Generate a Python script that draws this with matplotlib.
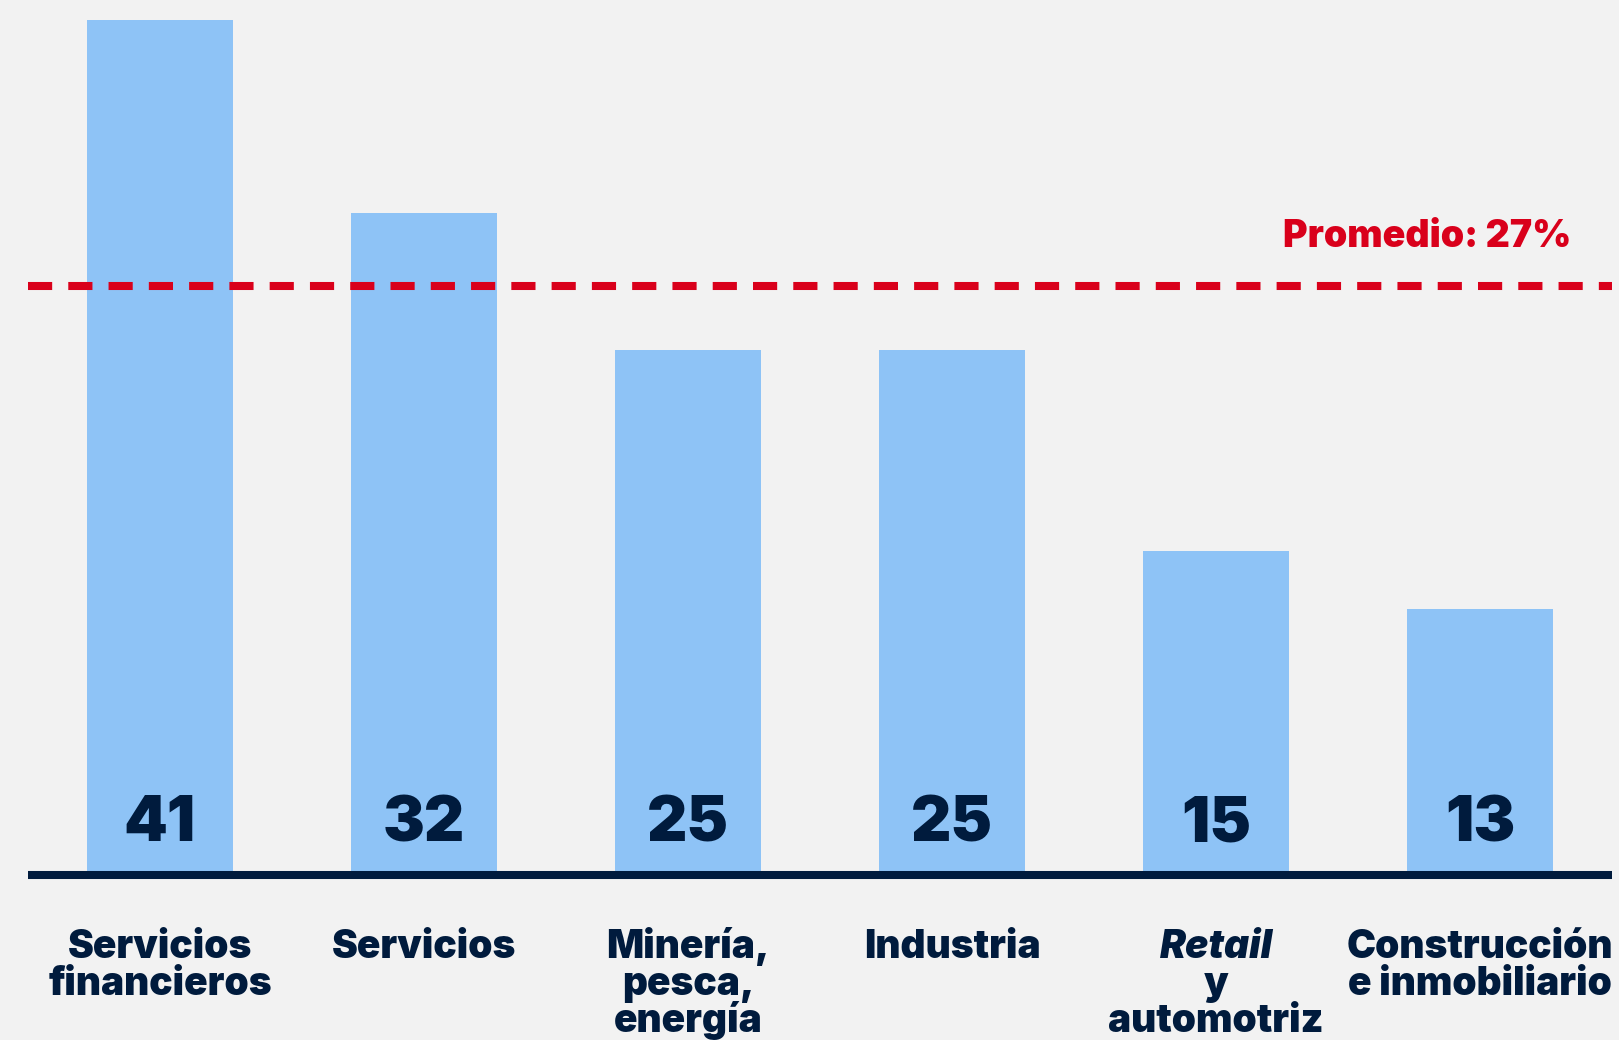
import matplotlib
matplotlib.use("Agg")
import matplotlib.pyplot as plt

# ---- data ----
categories = [
    ["Servicios", "financieros"],
    ["Servicios"],
    ["Minería,", "pesca,", "energía"],
    ["Industria"],
    ["Retail", "y", "automotriz"],
    ["Construcción", "e inmobiliario"],
]
italic_lines = {(4, 0)}
values = [41, 31.7, 25.1, 25.1, 15.4, 12.6]
value_labels = ["41", "32", "25", "25", "15", "13"]
avg_level = 28.15
avg_label = "Promedio: 27%"

# ---- style ----
BG = "#F2F2F2"
BAR = "#8EC3F6"
NAVY = "#001B3D"
RED = "#D9001B"
FONT = ["Inter", "DejaVu Sans"]

W, H = 1619, 1040
fig = plt.figure(figsize=(W / 100, H / 100), dpi=100, facecolor=BG)
ax = fig.add_axes([28 / W, 1 - 870.5 / H, (1612 - 28) / W, 869.4 / H])
ax.set_facecolor(BG)

x = list(range(len(values)))
ax.bar(x, values, width=0.555, color=BAR, zorder=2)
ax.set_xlim(-0.5, len(values) - 0.5)
ax.set_ylim(0, 41.9)

for s in ["top", "left", "right"]:
    ax.spines[s].set_visible(False)
ax.spines["bottom"].set_color(NAVY)
ax.spines["bottom"].set_linewidth(5.8)
ax.spines["bottom"].set_position(("outward", 2.9))
ax.spines["bottom"].set_capstyle("butt")
ax.set_xticks([])
ax.set_yticks([])

ax.axhline(avg_level, color=RED, lw=5.8, linestyle=(0, (3, 2)), zorder=3)
ax.annotate(avg_label, xy=(0.9745, avg_level), xycoords=("axes fraction", "data"),
            xytext=(0, 28.5), textcoords="offset points", ha="right", va="baseline",
            fontsize=27, fontweight="black", family=FONT, color=RED)

for i, (v, lab) in enumerate(zip(values, value_labels)):
    ax.annotate(lab, xy=(i, 0), xytext=(0, 21.2), textcoords="offset points",
                ha="center", va="baseline", fontsize=45, fontweight="black",
                family=FONT, color=NAVY, zorder=4)

for i, lines in enumerate(categories):
    for j, line in enumerate(lines):
        ax.annotate(line, xy=(i, 0), xytext=(0, -63 - j * 26.6), textcoords="offset points",
                    ha="center", va="baseline", fontsize=28, fontweight="black",
                    fontstyle="italic" if (i, j) in italic_lines else "normal",
                    family=FONT, color=NAVY, annotation_clip=False)

fig.savefig("out.png", dpi=100, facecolor=BG)
